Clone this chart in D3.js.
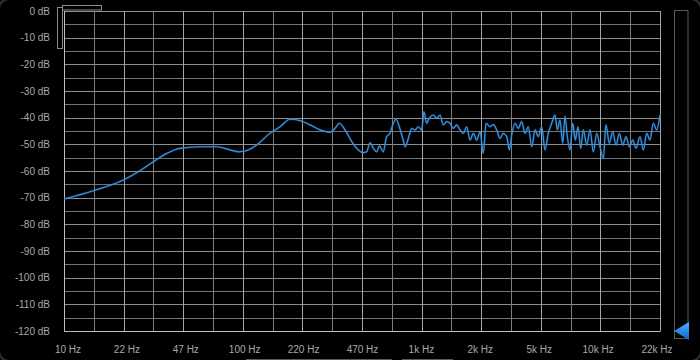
<!DOCTYPE html>
<html><head><meta charset="utf-8">
<script src="https://cdn.jsdelivr.net/npm/d3@7"></script>
<style>html,body{margin:0;padding:0;background:#000;}svg{display:block;}</style>
</head><body>
<svg id="c" width="700" height="360"></svg>
<script>
const freqLabels = ["10 Hz","22 Hz","47 Hz","100 Hz","220 Hz","470 Hz","1k Hz","2k Hz","5k Hz","10k Hz","22k Hz"];
const dbTicks = [0,-10,-20,-30,-40,-50,-60,-70,-80,-90,-100,-110,-120];
const freqs = [10,14.6,21.5,26.1,31.7,37.7,44.7,57.9,71.8,85.3,95,103.5,120,143,163,185,211,240,273,310,331,350,377,411,447,477,498,520,543,567,587,617,645,673,697,728,759,794,820,853,891,930,970,1014,1044,1081,1118,1178,1231,1284,1340,1400,1461,1525,1594,1663,1735,1813,1892,1975,2063,2153,2246,2326,2449,2556,2671,2787,2908,3039,3144,3242,3382,3530,3688,3848,4017,4197,4379,4570,4775,4984,5200,5434,5670,5841,6047,6263,6452,6646,6882,7128,7371,7633,7904,8172,8539,8912,9299,9714,10138,10580,10955,11432,11946,12467,13010,13594,14187,14804,15469,16142,16996,17737,18529,19337,20180,21085,22000];
const levels = [-70.5,-67.4,-63.4,-60.3,-56.5,-53.4,-51.5,-50.9,-50.9,-52.1,-52.8,-52.5,-50.3,-45.8,-43.4,-40.6,-41.1,-42.7,-44.6,-45.5,-44,-42.1,-44.6,-49,-52.1,-53.1,-52.8,-49.4,-51.5,-52.8,-50.6,-52.8,-47.1,-45.9,-42.7,-40.6,-43.4,-47.8,-50.9,-47.8,-44,-44.6,-43.4,-44.6,-37.8,-42.1,-40.2,-39,-40.2,-39,-42.7,-41.5,-42.1,-44,-42.7,-44.6,-45.9,-43.4,-48.4,-45.9,-48.4,-45.2,-53.4,-42.1,-43.4,-42.6,-44.6,-47.8,-45.9,-47.1,-52.1,-46.5,-42.1,-44,-41.5,-45.9,-43.4,-50.9,-44.6,-47.1,-43.4,-52.1,-45.9,-42.1,-39,-44.6,-40.9,-49.6,-39.4,-47.1,-52.1,-42.1,-48.4,-43.4,-51.5,-44.6,-50.3,-44.6,-52.8,-45.9,-50.9,-55.3,-42.7,-49.6,-45.2,-50.3,-45.9,-50.3,-47.1,-50.9,-48.4,-51.5,-47.1,-52.1,-45.9,-48.4,-42.1,-44.6,-39];

const svg = d3.select("#c");
const L = 64, R = 660, T = 11, B = 331;
const x = d3.scaleLog().domain([10, 22000]).range([L, R]);
const y = d3.scaleLinear().domain([-120, 0]).range([B, T]);
const lab = d3.scalePoint().domain(freqLabels).range([68, 657]);

// panel
svg.append("rect").attr("x",-1).attr("y",-1).attr("width",702).attr("height",362)
  .attr("rx",10).attr("fill","#000").attr("stroke","#2e2e2e").attr("stroke-width",2);

const g = svg.append("g");
// horizontal grid (every 5 dB)
const hvals = d3.range(-120, 1, 5);
g.selectAll("line.h").data(hvals).join("line")
  .attr("x1", L).attr("x2", R)
  .attr("y1", d => Math.round(y(d)) + 0.5).attr("y2", d => Math.round(y(d)) + 0.5)
  .attr("stroke", d => d % 10 === 0 ? "#8e8e8e" : "#747474").attr("stroke-width", 1);
// vertical grid: 20 equal log divisions
const vvals = d3.range(0, 21).map(k => 10 * Math.pow(2200, k / 20));
g.selectAll("line.v").data(vvals).join("line")
  .attr("x1", d => Math.round(x(d)) + 0.5).attr("x2", d => Math.round(x(d)) + 0.5)
  .attr("y1", T).attr("y2", B)
  .attr("stroke", (d, i) => i % 2 === 0 ? "#a4a4a4" : "#7c7c7c").attr("stroke-width", 1);
// border emphasis
g.append("line").attr("x1",L+0.5).attr("x2",L+0.5).attr("y1",T).attr("y2",B+0.5).attr("stroke","#bdbdbd");
g.append("line").attr("x1",L).attr("x2",R+0.5).attr("y1",B+0.5).attr("y2",B+0.5).attr("stroke","#bdbdbd");

// y labels
svg.selectAll("text.yl").data(dbTicks).join("text")
  .attr("x", 50).attr("y", d => y(d) + 1)
  .attr("text-anchor", "end").attr("dominant-baseline", "middle")
  .attr("font-family", "Liberation Sans, Arial, sans-serif").attr("font-size", 10)
  .attr("fill", "#a9a9a9").text(d => d + " dB");
// x labels
svg.selectAll("text.xl").data(freqLabels).join("text")
  .attr("x", d => lab(d)).attr("y", 350)
  .attr("text-anchor", "middle").attr("dominant-baseline", "middle")
  .attr("font-family", "Liberation Sans, Arial, sans-serif").attr("font-size", 10)
  .attr("fill", "#a9a9a9").text(d => d);

// spectrum line
const pts = freqs.map((f, i) => [f, levels[i]]);
const line = d3.line().x(d => x(d[0])).y(d => y(d[1])).curve(d3.curveMonotoneX);
svg.append("path").datum(pts).attr("d", line)
  .attr("fill", "none").attr("stroke", "#1f6fb8").attr("stroke-width", 2.4).attr("opacity", 0.35);
svg.append("path").datum(pts).attr("d", line)
  .attr("fill", "none").attr("stroke", "#3d95e0").attr("stroke-width", 1.2);

// top-left zoom handles
svg.append("rect").attr("x",62.5).attr("y",5.5).attr("width",39).attr("height",4.5)
  .attr("fill","none").attr("stroke","#8a8a8a");
svg.append("rect").attr("x",57.5).attr("y",7.5).attr("width",5).attr("height",41)
  .attr("fill","none").attr("stroke","#8a8a8a");

// right slider
svg.append("rect").attr("x",674.5).attr("y",10.5).attr("width",13.5).attr("height",328)
  .attr("fill","none").attr("stroke","#5a5a5a");
const grad = svg.append("defs").append("linearGradient").attr("id","tg")
  .attr("x1","0").attr("y1","0").attr("x2","0").attr("y2","1");
grad.append("stop").attr("offset","0").attr("stop-color","#4fb0ff");
grad.append("stop").attr("offset","1").attr("stop-color","#0a64c8");
svg.append("path").attr("d","M674,331 L689,322 L689,340 Z").attr("fill","url(#tg)");

// bottom scroll marks
svg.append("line").attr("x1",246).attr("x2",392).attr("y1",359.5).attr("y2",359.5).attr("stroke","#5a5a5a");
svg.append("line").attr("x1",402).attr("x2",453).attr("y1",359.5).attr("y2",359.5).attr("stroke","#5a5a5a");
</script>
</body></html>
